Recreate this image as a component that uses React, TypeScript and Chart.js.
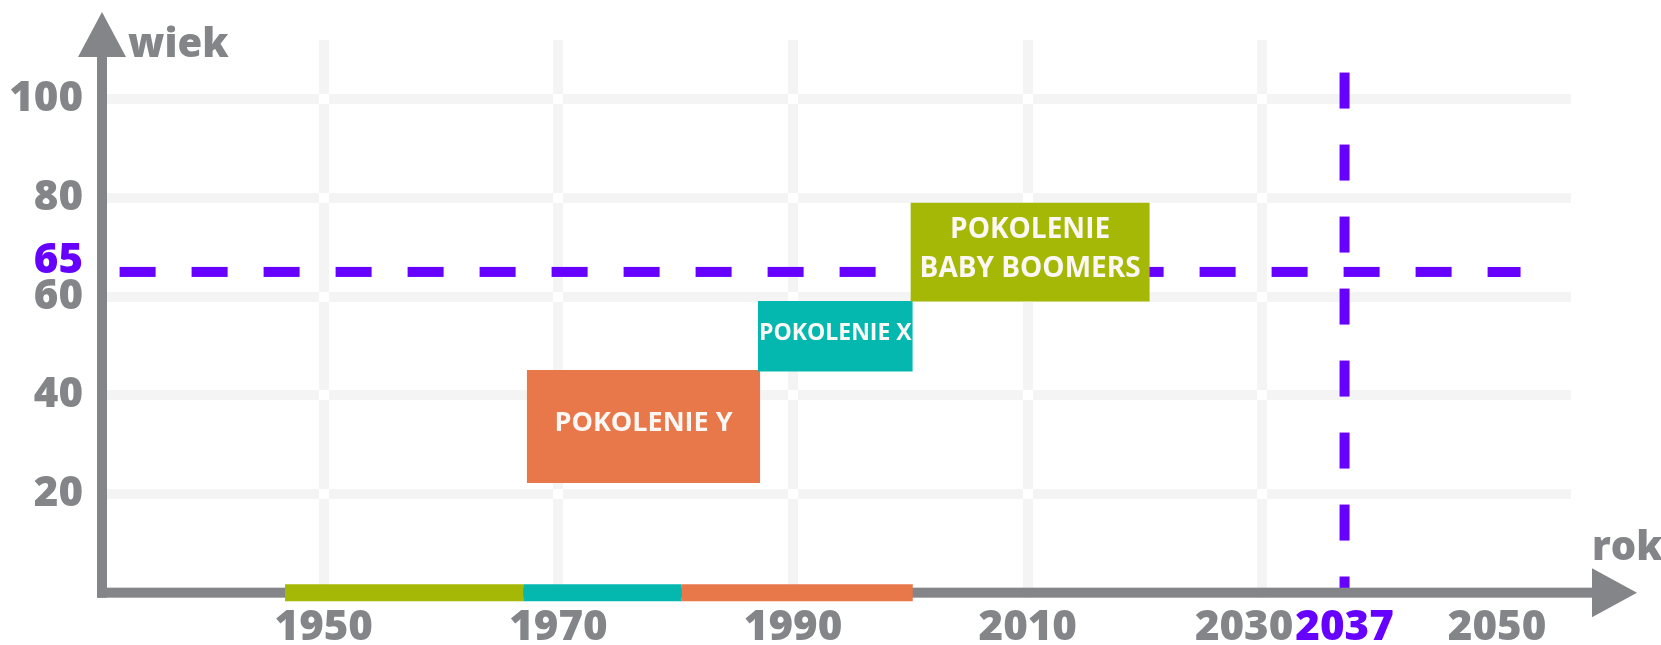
import React, { useEffect, useRef } from "react";
import { Chart, registerables } from "chart.js";

Chart.register(...registerables);

// ---------------- data ----------------
const xTickYears = [1950, 1970, 1990, 2010, 2030, 2037, 2050];
const gridYears = [1950, 1970, 1990, 2010, 2030];
const yTickAges = [20, 40, 60, 80, 100];
const retirementAge = 65;
const markYear = 2037;
const squeezedYear = 2030;

const genNames = ["BABY BOOMERS", "X", "Y"];
const boxLines = [["POKOLENIE", "BABY BOOMERS"], ["POKOLENIE X"], ["POKOLENIE Y"]];
const birthFrom = [1946.7, 1967, 1980.5];
const birthTo = [1967, 1980.5, 2000.2];
const boxFrom = [2000, 1987, 1967.3];
const boxTo = [2020.4, 2000.2, 1987.2];
const ageFrom = [59, 44.8, 22.2];
const ageTo = [79, 59.1, 45.1];
const retirementLineYears = [1932.6, 2052];
const markLineAges = [105.4, 0];
const yearRange = [1931.1, 2056.3];
const ageRange = [-1, 112];

// ---------------- styles ----------------
const W = 1661;
const H = 645;
const GRAY = "#848589";
const GRID = "#F4F4F4";
const PURPLE = "#6600FF";
const TEXT_ON_BOX = "#FBF7F4";
const genColors = ["#A6B806", "#04B8B0", "#E8774A"];
const FAMILY = "'Open Sans', 'DejaVu Sans', sans-serif";
const AXIS_FONT = 42;
const AXIS_WEIGHT = 800;
const boxFontSizes = [28, 23, 27];
const X_TICK_PAD = 9;

function drawAxes(chart: any) {
  const { ctx, chartArea, scales } = chart;
  const { left, right, top } = chartArea;
  const y0 = scales.y.getPixelForValue(0);
  const hw = 5;
  ctx.save();
  ctx.fillStyle = GRAY;
  // vertical axis + arrow
  ctx.fillRect(left - hw, top + 16, 2 * hw, y0 + hw - (top + 16));
  ctx.beginPath();
  ctx.moveTo(left, top - 28);
  ctx.lineTo(left + 24, top + 17);
  ctx.lineTo(left - 24, top + 17);
  ctx.closePath();
  ctx.fill();
  // horizontal axis + arrow
  const baseX = right + 21;
  ctx.fillRect(left - hw, y0 - hw, baseX + 1 - (left - hw), 2 * hw);
  ctx.beginPath();
  ctx.moveTo(right + 66, y0);
  ctx.lineTo(baseX, y0 - 24.5);
  ctx.lineTo(baseX, y0 + 24.5);
  ctx.closePath();
  ctx.fill();
  ctx.restore();
}

const decorPlugin = {
  id: "decor",
  beforeDatasetsDraw(chart: any) {
    const { ctx, scales } = chart;
    ctx.save();
    ctx.fillStyle = "#FFFFFF";
    gridYears.forEach((gx) => {
      yTickAges.forEach((gy) => {
        const px = Math.round(scales.x.getPixelForValue(gx));
        const py = Math.round(scales.y.getPixelForValue(gy));
        ctx.fillRect(px - 5, py - 5, 10, 10);
      });
    });
    ctx.restore();
  },
  beforeDatasetDraw(chart: any, args: any) {
    // axes lie above the dashed guides but below the birth-year bars
    if (args.index === 5) drawAxes(chart);
  },
  afterDatasetsDraw(chart: any) {
    const { ctx, chartArea, scales } = chart;
    const { left, right, top } = chartArea;
    const xs = scales.x;
    const ys = scales.y;
    const y0 = ys.getPixelForValue(0);
    ctx.save();
    // box labels
    boxLines.forEach((lines, i) => {
      const size = boxFontSizes[i];
      ctx.font = `bold ${size}px ${FAMILY}`;
      ctx.fillStyle = TEXT_ON_BOX;
      ctx.textAlign = "center";
      ctx.textBaseline = "middle";
      const cx = xs.getPixelForValue((boxFrom[i] + boxTo[i]) / 2);
      const cy = ys.getPixelForValue((ageFrom[i] + ageTo[i]) / 2) - 3;
      const lh = size * 1.4;
      lines.forEach((t, j) => {
        ctx.fillText(t, cx, cy + (j - (lines.length - 1) / 2) * lh);
      });
    });
    // axis titles
    ctx.font = `${AXIS_WEIGHT} 40px ${FAMILY}`;
    ctx.fillStyle = GRAY;
    ctx.textAlign = "left";
    ctx.textBaseline = "alphabetic";
    ctx.fillText("wiek", left + 26, top + 17);
    ctx.fillText("rok", right + 21, y0 - 33);
    // retirement age label
    ctx.font = `${AXIS_WEIGHT} ${AXIS_FONT}px ${FAMILY}`;
    ctx.fillStyle = PURPLE;
    ctx.textAlign = "right";
    ctx.textBaseline = "middle";
    ctx.fillText(String(retirementAge), left - 19, ys.getPixelForValue(retirementAge) - 11);
    // squeezed year label, placed just left of the marked year label
    const markW = ctx.measureText(String(markYear)).width;
    ctx.fillStyle = GRAY;
    ctx.fillText(
      String(squeezedYear),
      xs.getPixelForValue(markYear) - markW / 2 - 2,
      xs.top + X_TICK_PAD + AXIS_FONT / 2
    );
    ctx.restore();
  },
};

export default function App() {
  const ref = useRef<HTMLCanvasElement | null>(null);
  useEffect(() => {
    document.body.style.margin = "0";
    const canvas = ref.current;
    if (!canvas) return;

    const datasets: any[] = [];
    genNames.forEach((name, i) => {
      datasets.push({
        label: "POKOLENIE " + name,
        data: [
          { x: boxFrom[i], y: ageTo[i] },
          { x: boxTo[i], y: ageTo[i] },
        ],
        fill: { value: ageFrom[i] },
        backgroundColor: genColors[i],
        borderColor: genColors[i],
        borderWidth: 0,
        pointRadius: 0,
      });
    });
    genNames.forEach((name, i) => {
      datasets.push({
        label: "urodzeni " + name,
        data: [
          { x: birthFrom[i], y: 0 },
          { x: birthTo[i], y: 0 },
        ],
        fill: false,
        borderColor: genColors[i],
        borderWidth: 17,
        borderCapStyle: "butt",
        pointRadius: 0,
        clip: false,
      });
    });
    datasets.push({
      label: "65 lat",
      data: [
        { x: retirementLineYears[0], y: retirementAge },
        { x: retirementLineYears[1], y: retirementAge },
      ],
      fill: false,
      borderColor: PURPLE,
      borderWidth: 10,
      borderDash: [36, 36],
      borderCapStyle: "butt",
      pointRadius: 0,
    });
    datasets.push({
      label: "2037",
      data: [
        { x: markYear, y: markLineAges[0] },
        { x: markYear, y: markLineAges[1] },
      ],
      fill: false,
      borderColor: PURPLE,
      borderWidth: 10,
      borderDash: [36, 36],
      borderCapStyle: "butt",
      pointRadius: 0,
    });

    const tickFont = { family: FAMILY, size: AXIS_FONT, weight: AXIS_WEIGHT as any, lineHeight: 1 };

    const chart = new Chart(canvas, {
      type: "line",
      data: { datasets },
      options: {
        animation: false,
        responsive: false,
        devicePixelRatio: 1,
        events: [],
        layout: { padding: { top: 40, right: 90, left: 0, bottom: 0 } },
        plugins: { legend: { display: false }, tooltip: { enabled: false } },
        scales: {
          x: {
            type: "linear",
            min: yearRange[0],
            max: yearRange[1],
            afterBuildTicks: (s: any) => {
              s.ticks = xTickYears.map((v) => ({ value: v }));
            },
            afterFit: (s: any) => {
              s.height = 47.4;
            },
            border: { display: false },
            grid: {
              drawTicks: false,
              lineWidth: 10,
              color: (c: any) =>
                c.tick && gridYears.includes(c.tick.value) ? GRID : "rgba(0,0,0,0)",
            },
            ticks: {
              autoSkip: false,
              maxRotation: 0,
              minRotation: 0,
              padding: X_TICK_PAD,
              font: tickFont,
              color: (c: any) => (c.tick && c.tick.value === markYear ? PURPLE : GRAY),
              callback: (v: any) => (v === squeezedYear ? "" : String(v)),
            },
          },
          y: {
            type: "linear",
            min: ageRange[0],
            max: ageRange[1],
            afterBuildTicks: (s: any) => {
              s.ticks = yTickAges.map((v) => ({ value: v }));
            },
            afterFit: (s: any) => {
              s.width = 102;
            },
            border: { display: false },
            grid: { drawTicks: false, lineWidth: 10, color: GRID },
            ticks: {
              autoSkip: false,
              padding: 19,
              font: tickFont,
              color: GRAY,
              callback: (v: any) => String(v),
            },
          },
        },
      },
      plugins: [decorPlugin],
    });
    return () => chart.destroy();
  }, []);

  return (
    <div style={{ width: W, height: H, overflow: "hidden", background: "#fff" }}>
      <canvas ref={ref} width={W} height={H} style={{ display: "block" }} />
    </div>
  );
}
